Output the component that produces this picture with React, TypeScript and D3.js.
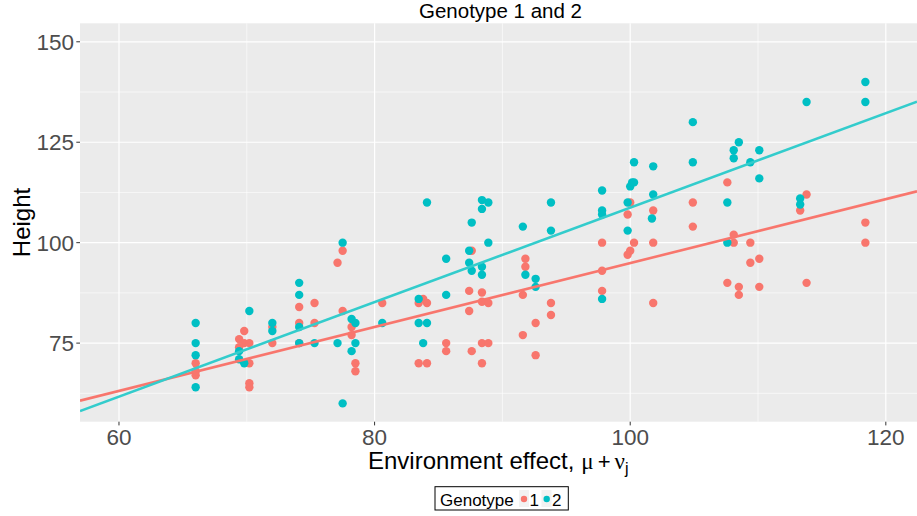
import React from "react";
import * as d3 from "d3";

// Genotype 1 (red) observations: environment effect and height
const g1X = [66.0, 66.0, 66.0, 69.4, 69.4, 69.8, 69.8, 70.2, 70.2, 70.2, 70.2, 72.0, 72.0, 74.1, 74.1, 74.1, 75.3, 75.3,
  77.1, 77.5, 77.5, 78.2, 78.2, 78.5, 78.5, 80.6, 83.45, 83.45, 83.8, 84.1, 84.1, 85.6, 85.6,
  87.4, 87.4, 87.6, 87.6, 88.4, 88.4, 88.4, 88.4, 88.9, 88.9, 91.6, 91.6, 91.8, 91.8, 92.6, 92.6, 93.8, 93.8,
  97.8, 97.8, 97.8, 99.8, 99.8, 100.0, 100.0, 100.3, 101.8, 101.8, 101.8, 104.9, 104.9, 107.6, 107.6,
  108.1, 108.1, 108.5, 108.5, 109.4, 109.4, 110.1, 110.1, 113.3, 113.8, 113.8, 118.4, 118.4];
const g1Y = [70, 67, 68, 76, 74, 78, 75, 75, 70, 65, 64, 79, 75, 84, 80, 75, 85, 80,
  95, 98, 83, 79, 77, 70, 68, 85, 85, 70, 86, 85, 70, 75, 73,
  88, 83, 98, 73, 87.6, 85.3, 75, 70, 85, 75, 87, 77, 96, 94, 80, 72, 85, 82,
  100, 93, 88, 107, 97, 110, 98, 100, 108, 100, 85, 110, 104, 115, 90,
  102, 100, 89, 87, 100, 95, 96, 89, 108, 112, 90, 105, 100];

// Genotype 2 (cyan) observations
const g2X = [66.0, 66.0, 66.0, 66.0, 69.4, 69.4, 69.8, 70.2, 72.0, 72.0, 74.1, 74.1, 74.1, 74.1, 75.3,
  77.1, 77.5, 77.5, 78.2, 78.2, 78.5, 78.5, 80.6, 83.45, 83.45, 83.8, 84.1, 84.1, 85.6, 85.6,
  87.4, 87.4, 87.6, 87.6, 88.4, 88.4, 88.4, 88.4, 88.9, 88.9, 91.6, 91.8, 92.6, 92.6, 93.8, 93.8,
  97.8, 97.8, 97.8, 97.8, 99.8, 99.8, 100.0, 100.15, 100.3, 100.3, 101.8, 101.8, 101.7, 104.9, 104.9,
  107.6, 107.6, 108.1, 108.1, 108.5, 109.4, 110.1, 110.1, 113.3, 113.3, 113.8, 118.4, 118.4];
const g2Y = [80, 75, 72, 64, 73, 71, 70, 83, 80, 78, 90, 87, 79, 75, 75,
  75, 100, 60, 81, 73, 80, 75, 80, 86, 80, 75, 110, 80, 96, 87,
  98, 95, 105, 93, 110.6, 108.4, 94, 92, 110, 100, 104, 92, 91, 89, 110, 103,
  113, 108, 107, 86, 110, 103, 114, 115, 115, 120, 119, 112, 106, 130, 120,
  110, 100, 123, 121, 125, 120, 123, 116, 111, 109.5, 135, 140, 135];

// Fitted lines (endpoints at the panel limits)
const fitX = [56.95, 122.44];
const fit1Y = [60.67, 112.77];
const fit2Y = [58.1, 135.1];

const xTicks = [60, 80, 100, 120];
const xMinor = [70, 90, 110];
const yTicks = [75, 100, 125, 150];
const yMinor = [62.5, 87.5, 112.5, 137.5];

const RED = "#F8766D";
const CYAN = "#00BFC4";
const FONT = "'Liberation Sans', Arial, Helvetica, sans-serif";

export default function App() {
  const W = 917, H = 516;
  const L = 80, R = 917, T = 23.3, B = 421.7;
  const x = d3.scaleLinear().domain([56.95, 122.44]).range([L, R]);
  const y = d3.scaleLinear().domain([55.44, 154.6]).range([B, T]);
  const line = d3.line<[number, number]>().x(d => x(d[0])).y(d => y(d[1]));
  const l1 = line(fitX.map((v, i) => [v, fit1Y[i]] as [number, number])) || "";
  const l2 = line(fitX.map((v, i) => [v, fit2Y[i]] as [number, number])) || "";

  return (
    <svg width={W} height={H} style={{ position: "absolute", left: 0, top: 0, background: "#fff" }} fontFamily={FONT}>
      <defs>
        <clipPath id="panel"><rect x={L} y={T} width={R - L} height={B - T} /></clipPath>
      </defs>
      <rect x={L} y={T} width={R - L} height={B - T} fill="#EBEBEB" />
      {xMinor.map(v => <line key={"xm" + v} x1={x(v)} x2={x(v)} y1={T} y2={B} stroke="#fff" strokeWidth={0.6} />)}
      {yMinor.map(v => <line key={"ym" + v} x1={L} x2={R} y1={y(v)} y2={y(v)} stroke="#fff" strokeWidth={0.6} />)}
      {xTicks.map(v => <line key={"xg" + v} x1={x(v)} x2={x(v)} y1={T} y2={B} stroke="#fff" strokeWidth={1.2} />)}
      {yTicks.map(v => <line key={"yg" + v} x1={L} x2={R} y1={y(v)} y2={y(v)} stroke="#fff" strokeWidth={1.2} />)}

      <g clipPath="url(#panel)">
        {g1X.map((v, i) => <circle key={"a" + i} cx={x(v)} cy={y(g1Y[i])} r={4.2} fill={RED} />)}
        {g2X.map((v, i) => <circle key={"b" + i} cx={x(v)} cy={y(g2Y[i])} r={4.2} fill={CYAN} />)}
        <path d={l1} stroke={RED} strokeWidth={2.6} fill="none" />
        <path d={l2} stroke="#33CCCC" strokeWidth={2.6} fill="none" />
      </g>

      {/* y axis */}
      {yTicks.map(v => (
        <g key={"yt" + v}>
          <line x1={L - 3.7} x2={L} y1={y(v)} y2={y(v)} stroke="#333" strokeWidth={1} />
          <text x={L - 6} y={y(v)} dy="0.36em" textAnchor="end" fontSize={22.5} fill="#4D4D4D">{v}</text>
        </g>
      ))}
      {/* x axis */}
      {xTicks.map(v => (
        <g key={"xt" + v}>
          <line x1={x(v)} x2={x(v)} y1={B} y2={B + 3.7} stroke="#333" strokeWidth={1} />
          <text x={x(v)} y={445} textAnchor="middle" fontSize={22.5} fill="#4D4D4D">{v}</text>
        </g>
      ))}

      <text x={(L + R) / 2 + 2} y={17.5} textAnchor="middle" fontSize={20.5} fill="#000">Genotype 1 and 2</text>

      <text transform={`translate(29.5, ${(T + B) / 2}) rotate(-90)`} textAnchor="middle" fontSize={24} fill="#000">Height</text>

      <text x={368} y={469} fontSize={24} fill="#000">
        Environment effect,
        <tspan dx={7} fontFamily="'Liberation Serif', serif" fontSize={23}>μ</tspan>
        <tspan dx={4} fontSize={22}>+</tspan>
        <tspan dx={4} fontFamily="'Liberation Serif', serif" fontSize={23}>ν</tspan>
        <tspan fontSize={16} dy={5}>j</tspan>
      </text>

      {/* legend */}
      <rect x={435} y={486.7} width={133.3} height={23.3} fill="#fff" stroke="#000" strokeWidth={1} />
      <text x={440} y={505.5} fontSize={17} fill="#000">Genotype</text>
      <rect x={519} y={490} width={10} height={17} fill="#F2F2F2" />
      <circle cx={524} cy={499} r={3.2} fill={RED} />
      <text x={529.5} y={505.5} fontSize={17} fill="#000">1</text>
      <rect x={541.5} y={490} width={10} height={17} fill="#F2F2F2" />
      <circle cx={546.7} cy={499} r={3.2} fill={CYAN} />
      <text x={552} y={505.5} fontSize={17} fill="#000">2</text>
    </svg>
  );
}
